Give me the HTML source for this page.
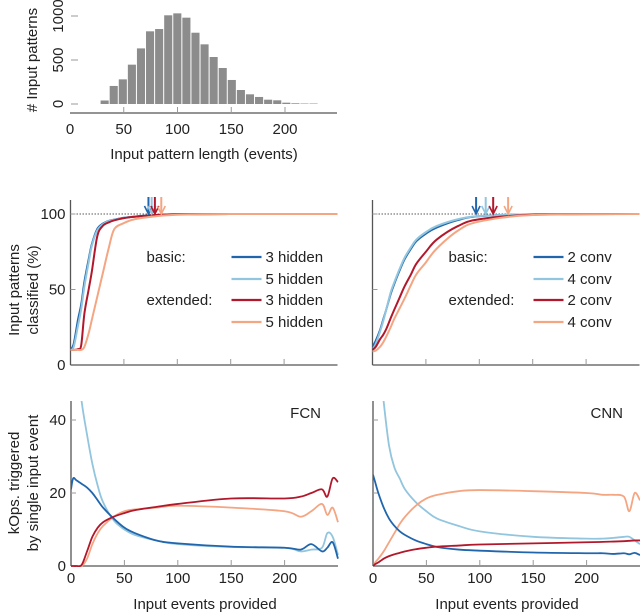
<!DOCTYPE html>
<html><head><meta charset="utf-8"><style>
html,body{margin:0;padding:0;background:#fff;}
svg{display:block;font-family:"Liberation Sans",sans-serif;}
</style></head><body>
<svg id="fig" width="640" height="613" viewBox="0 0 640 613" xmlns="http://www.w3.org/2000/svg"></svg>
<script>
// ---------- DATA ----------
const histCounts = [40,205,280,447,632,826,852,1008,1030,981,810,678,534,409,273,159,110,80,49,42,15,8,5,5];
const histBinStart = 28;
const histBinWidth = 8.45;
const histXTicks = [0,50,100,150,200];
const histYTicks = [0,500,1000];

const accX = [0,3,7,10,13,17,20,25,30,36,41,50,60,80,100,150,250];
const fcnBasic3 = [10,14,30,40,55,70,80,90,93.5,95.5,96.3,97.5,98.3,99.3,99.8,100,100];
const fcnBasic5 = [10,12,26,37,52,68,79,89,93,95.3,96.2,97.4,98.2,99.3,99.8,100,100];
const fcnExt3   = [10,10,10.5,13,34,50,62,85,92,94.5,95.8,97.3,98.2,99.3,99.8,100,100];
const fcnExt5   = [10,10,10,10,12,21,30,45,60,78,90,94,96.5,98.5,99.5,100,100];
const cnnBasic2 = [12,16,23,30,37,47,53,62,70,77,82,87,91,96,98.5,99.8,100];
const cnnBasic4 = [10,14,22,29,37,48,54,63,71,78,83,88,92,96.5,98.6,99.8,100];
const cnnExt2   = [10,12,17,20,24,31,36,44,52,60,67,75,83,92,96.5,99.5,100];
const cnnExt5   = [9,9.5,12,15,19,25,30,37,44,53,60,68,77,89,95,99.3,100];
const fcnArrows = [73,76,79,85];
const cnnArrows = [97,106,113,127];

const opsX = [0,2,5,10,15,20,25,30,40,50,60,80,100,150,200,215,225,235,240,245,250];
const fcnOpsB3 = [21,24,23.5,22.5,21.5,20,18,16,13,10.5,9,7,6.2,5.3,5,4.5,6,4,5,6.5,2];
const fcnOpsB5 = [80,70,58,45,36,28,22,17.5,12.5,10,8.5,7,6,5.2,5,4,4.5,5,9,8,3];
const fcnOpsE3 = [0,0,0,0.3,4,8,10.5,12,13.5,14.5,15.3,16.2,17,18.5,18.5,19,20,21,19,24,23];
const fcnOpsE5 = [0,0,0,0,2,6,9,11,13.5,15,15.5,16,16.5,16,15,13.5,15,17,14,16,12];
const cnnOpsB2 = [25,23,20,16,13,11,9.5,8.5,7,6,5.2,4.5,4.2,3.7,3.5,3.5,3.3,3.5,3.2,3.6,3];
const cnnOpsB4 = [90,75,60,45,33,27,24,21,17.5,15,13,11,9.5,8,7.5,7.5,7.7,8,8,7,6];
const cnnOpsE2 = [0,0.5,1,2,2.7,3.2,3.6,4,4.6,5,5.3,5.6,5.9,6.2,6.5,6.6,6.7,6.8,6.9,7,7];
const cnnOpsE4 = [0,1,2,4,6.5,9,11.5,13.5,16.5,18.5,19.5,20.5,20.8,20.5,20,19.5,19.5,19,15,20,18];
const opsYTicks = [0,20,40];
const xTicks = [0,50,100,150,200];

// ---------- HELPERS ----------
const NS='http://www.w3.org/2000/svg';
const svg=document.getElementById('fig');
function mk(tag,attrs,parent){const e=document.createElementNS(NS,tag);for(const k in attrs)e.setAttribute(k,attrs[k]);(parent||svg).appendChild(e);return e;}
function txt(s,x,y,attrs,parent){const e=mk('text',Object.assign({x:x,y:y,'font-size':15,fill:'#222','text-anchor':'middle'},attrs||{}),parent);e.textContent=s;return e;}
const C={db:'#2166ac',lb:'#92c5de',dr:'#b2182b',sa:'#f4a582',ax:'#555'};
const defs=mk('defs',{});
let clipN=0;
function clip(x,y,w,h){const id='c'+(clipN++);const cp=mk('clipPath',{id:id},defs);mk('rect',{x:x,y:y,width:w,height:h},cp);return 'url(#'+id+')';}

function scale(d0,d1,r0,r1){return v=>r0+(v-d0)*(r1-r0)/(d1-d0);}
function smoothPath(xs,ys,sx,sy){
  const pts=xs.map((x,i)=>[sx(x),sy(ys[i])]);
  let d='M'+pts[0][0].toFixed(2)+','+pts[0][1].toFixed(2);
  for(let i=0;i<pts.length-1;i++){
    const p0=pts[Math.max(0,i-1)],p1=pts[i],p2=pts[i+1],p3=pts[Math.min(pts.length-1,i+2)];
    const c1=[p1[0]+(p2[0]-p0[0])/6,p1[1]+(p2[1]-p0[1])/6];
    const c2=[p2[0]-(p3[0]-p1[0])/6,p2[1]-(p3[1]-p1[1])/6];
    d+='C'+c1.map(v=>v.toFixed(2)).join(',')+' '+c2.map(v=>v.toFixed(2)).join(',')+' '+p2[0].toFixed(2)+','+p2[1].toFixed(2);
  }
  return d;
}

// ---------- HISTOGRAM ----------
const hx=scale(0,200,70,285), hy=scale(0,1000,104,16);
const hg=mk('g',{});


histCounts.forEach((c,i)=>{
  const x0=hx(histBinStart+i*histBinWidth), x1=hx(histBinStart+(i+1)*histBinWidth);
  const r=mk('rect',{x:x0+0.5,y:hy(c),width:x1-x0-1,height:hy(0)-hy(c),fill:'#8c8c8c'},hg);
  
  
});
const hax=mk('line',{x1:70,y1:113,x2:337,y2:113,stroke:C.ax,'stroke-width':1.3});


histXTicks.forEach(t=>{
  if(t>0) mk('line',{x1:hx(t),y1:107,x2:hx(t),y2:113,stroke:'#999'});
  const l=txt(t,hx(t),134);
  
  
});
histYTicks.forEach(t=>{
  mk('line',{x1:71,y1:hy(t),x2:78,y2:hy(t),stroke:'#999'});
  const l=txt(t,0,0,{transform:'translate(63,'+hy(t)+') rotate(-90)'});
  
  
});
let e=txt('Input pattern length (events)',204,159);


e=txt('# Input patterns',0,0,{transform:'translate(37,60) rotate(-90)'});



// ---------- ACCURACY PANELS ----------
function accPanel(x0,series,arrows,labels,name,showY){
  const g=mk('g',{});
  
  
  const sx=scale(0,250,x0,x0+267), sy=scale(0,100,365,214);
  mk('line',{x1:x0,y1:214,x2:x0+267,y2:214,stroke:'#222','stroke-width':0.7,'stroke-dasharray':'1.5,1.5'},g);
  mk('line',{x1:x0,y1:200,x2:x0,y2:365,stroke:C.ax,'stroke-width':1.3},g);
  mk('line',{x1:x0,y1:365,x2:x0+267,y2:365,stroke:C.ax,'stroke-width':1.3},g);
  xTicks.forEach(t=>{if(t>0)mk('line',{x1:sx(t),y1:359,x2:sx(t),y2:365,stroke:'#999'},g);});
  [50,100].forEach(t=>mk('line',{x1:x0,y1:sy(t),x2:x0+5,y2:sy(t),stroke:'#999'},g));
  if(showY){[0,50,100].forEach(t=>{const l=txt(t,x0-5,sy(t)+5,{'text-anchor':'end'},g);
    
    });}
  const cg=mk('g',{'clip-path':clip(x0,198,270,170)},g);
  series.forEach(s=>{
    const p=mk('path',{d:smoothPath(accX,s.v,sx,sy),fill:'none',stroke:s.c,'stroke-width':2},cg);
    
    
  });
  arrows.forEach((a,i)=>{
    const c=series[i].c, x=sx(a);
    const ag=mk('g',{},g);
    
    
    mk('line',{x1:x,y1:197,x2:x,y2:212,stroke:c,'stroke-width':2},ag);
    mk('path',{d:'M'+(x-4)+',206 L'+x+',214 L'+(x+4)+',206',fill:'none',stroke:c,'stroke-width':1.6},ag);
  });
  const lg=mk('g',{},g);
  
  
  const lx=x0+76, rows=[257,279,300,322];
  txt('basic:',lx,rows[0]+5,{'text-anchor':'start'},lg);
  txt('extended:',lx,rows[2]+5,{'text-anchor':'start'},lg);
  series.forEach((s,i)=>{
    const le=mk('g',{},lg);
    
    
    mk('line',{x1:x0+161,y1:rows[i],x2:x0+191,y2:rows[i],stroke:s.c,'stroke-width':2.2},le);
    txt(labels[i],x0+195,rows[i]+5,{'text-anchor':'start'},le);
  });
}
accPanel(70.5,[{v:fcnBasic3,c:C.db,n:'fcn-basic-3-hidden'},{v:fcnBasic5,c:C.lb,n:'fcn-basic-5-hidden'},{v:fcnExt3,c:C.dr,n:'fcn-extended-3-hidden'},{v:fcnExt5,c:C.sa,n:'fcn-extended-5-hidden'}],
  fcnArrows,['3 hidden','5 hidden','3 hidden','5 hidden'],'fcn-accuracy-panel',true);
accPanel(372.5,[{v:cnnBasic2,c:C.db,n:'cnn-basic-2-conv'},{v:cnnBasic4,c:C.lb,n:'cnn-basic-4-conv'},{v:cnnExt2,c:C.dr,n:'cnn-extended-2-conv'},{v:cnnExt5,c:C.sa,n:'cnn-extended-4-conv'}],
  cnnArrows,['2 conv','4 conv','2 conv','4 conv'],'cnn-accuracy-panel',false);
e=txt('Input patterns',0,0,{transform:'translate(19,290) rotate(-90)'});


e=txt('classified (%)',0,0,{transform:'translate(38,290) rotate(-90)'});



// ---------- OPS PANELS ----------
function opsPanel(x0,series,title,name,showY){
  const g=mk('g',{});
  
  
  const sx=scale(0,250,x0,x0+267), sy=scale(0,20,566,493);
  mk('line',{x1:x0,y1:401,x2:x0,y2:566,stroke:C.ax,'stroke-width':1.3},g);
  mk('line',{x1:x0,y1:566,x2:x0+267,y2:566,stroke:C.ax,'stroke-width':1.3},g);
  xTicks.forEach(t=>{
    if(t>0)mk('line',{x1:sx(t),y1:560,x2:sx(t),y2:566,stroke:'#999'},g);
    const l=txt(t,sx(t),583,{},g);
    
    
  });
  opsYTicks.forEach(t=>{
    if(t>0)mk('line',{x1:x0,y1:sy(t),x2:x0+5,y2:sy(t),stroke:'#999'},g);
    if(showY){const l=txt(t,x0-5,sy(t)+5,{'text-anchor':'end'},g);
      
      }
  });
  const cg=mk('g',{'clip-path':clip(x0,401,270,166)},g);
  series.forEach(s=>{
    const p=mk('path',{d:smoothPath(opsX,s.v,sx,sy),fill:'none',stroke:s.c,'stroke-width':1.8},cg);
    
    
  });
  const t=txt(title,x0+250,418,{'text-anchor':'end'},g);
  
  
  const xt=txt('Input events provided',x0+134,609,{},g);
  
  
}
opsPanel(71,[{v:fcnOpsB5,c:C.lb,n:'fcn-ops-basic-5-hidden'},{v:fcnOpsE5,c:C.sa,n:'fcn-ops-extended-5-hidden'},{v:fcnOpsB3,c:C.db,n:'fcn-ops-basic-3-hidden'},{v:fcnOpsE3,c:C.dr,n:'fcn-ops-extended-3-hidden'}],'FCN','fcn-ops-panel',true);
opsPanel(373,[{v:cnnOpsB4,c:C.lb,n:'cnn-ops-basic-4-conv'},{v:cnnOpsE4,c:C.sa,n:'cnn-ops-extended-4-conv'},{v:cnnOpsB2,c:C.db,n:'cnn-ops-basic-2-conv'},{v:cnnOpsE2,c:C.dr,n:'cnn-ops-extended-2-conv'}],'CNN','cnn-ops-panel',false);
e=txt('kOps. triggered',0,0,{transform:'translate(19,483) rotate(-90)'});


e=txt('by single input event',0,0,{transform:'translate(38,483) rotate(-90)'});


</script>
</body></html>
